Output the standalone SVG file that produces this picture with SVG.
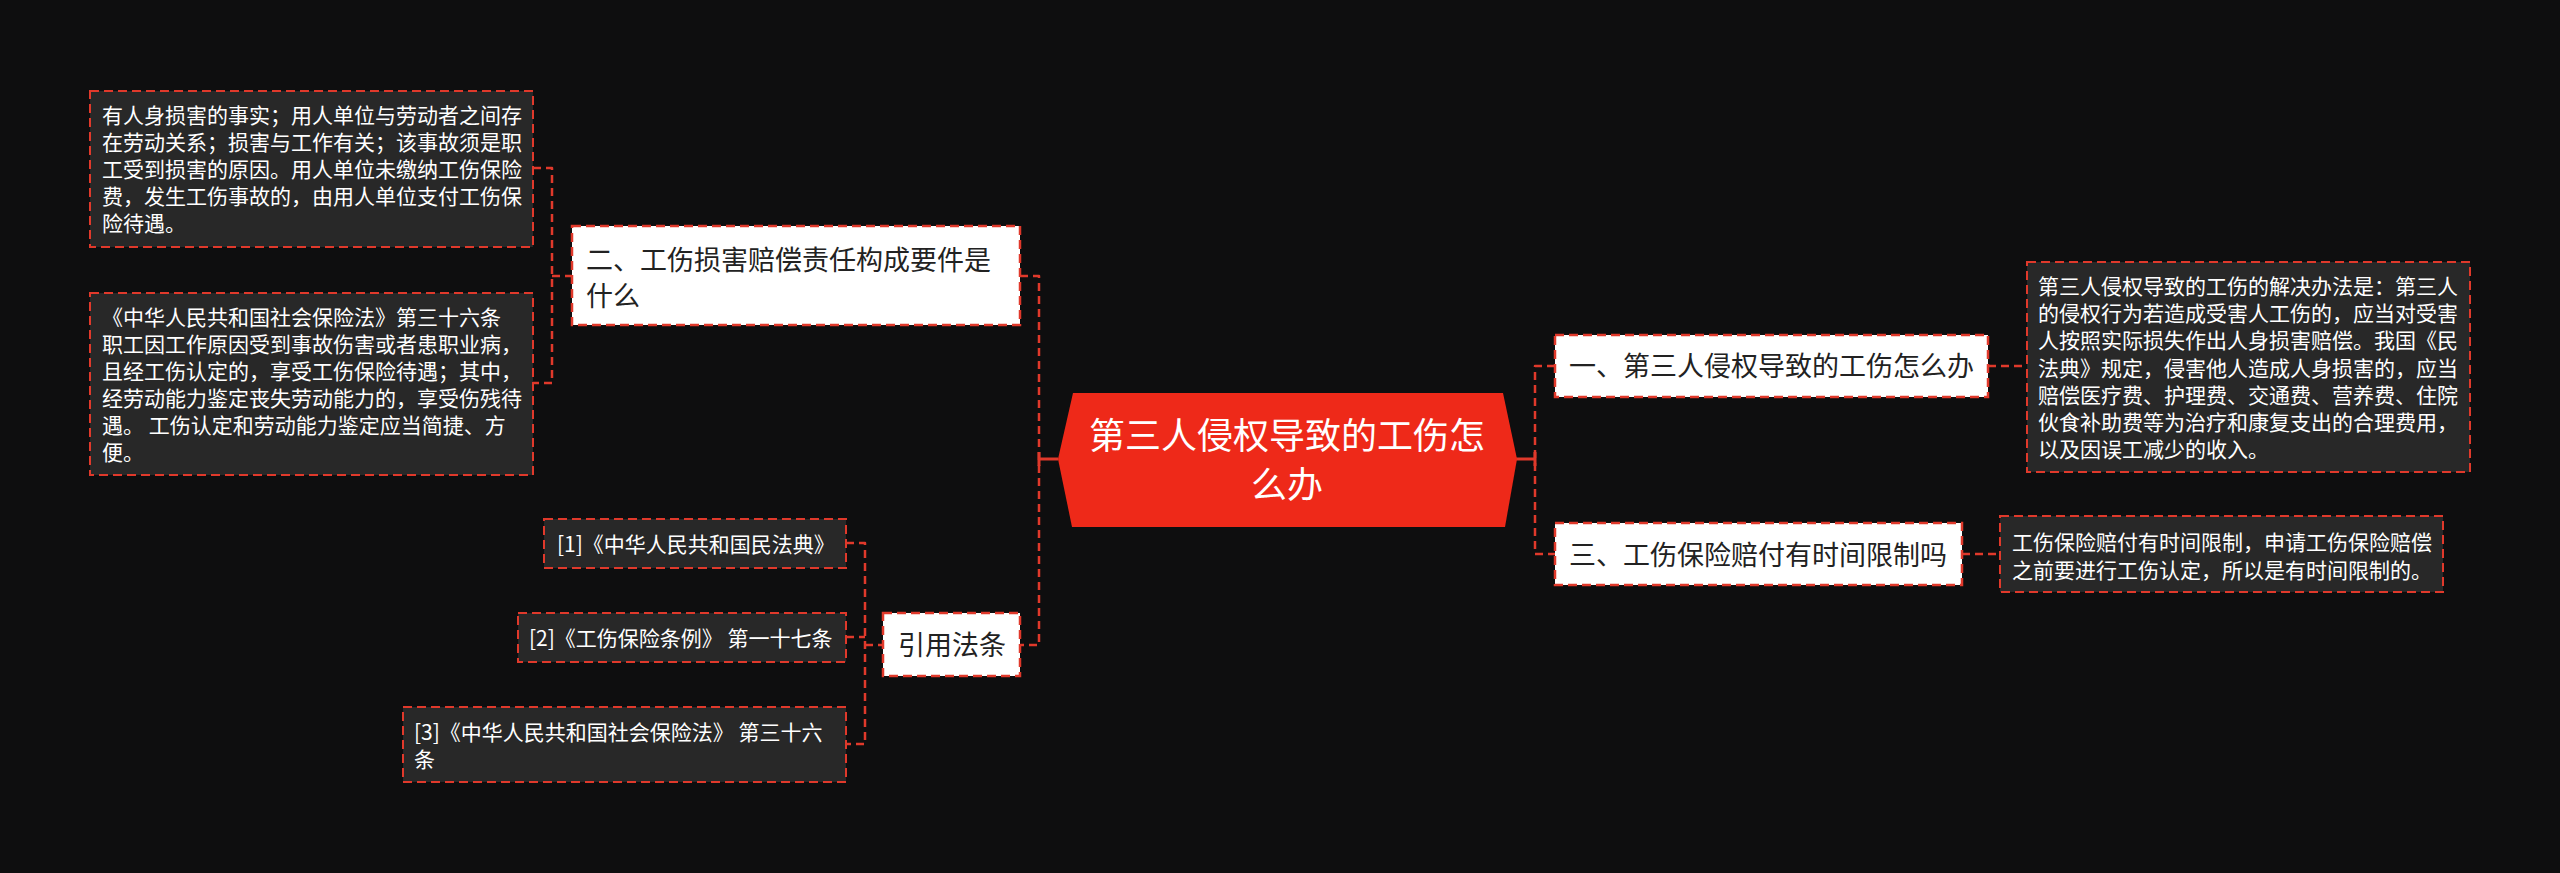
<svg xmlns="http://www.w3.org/2000/svg" width="2560" height="873" viewBox="0 0 2560 873">
<style>
.bg{fill:#0e0e0f}
.leaf{fill:#282828;stroke:#e0392b;stroke-width:2;stroke-dasharray:9 5}
.branch{fill:#ffffff;stroke:#e0392b;stroke-width:2.5;stroke-dasharray:9 5}
.conn{fill:none;stroke:#e0392b;stroke-width:2.5;stroke-dasharray:8 5;stroke-linejoin:round}
.solid{fill:none;stroke:#e0392b;stroke-width:3}
.lt{font-family:"Noto Sans CJK SC","Noto Sans",sans-serif;font-size:21px;fill:#ffffff}
.bt{font-family:"Noto Sans CJK SC","Noto Sans",sans-serif;font-size:27px;fill:#222222}
.ct{font-family:"Noto Sans CJK SC","Noto Sans",sans-serif;font-size:36px;fill:#ffffff;text-anchor:middle}
</style>
<rect class="bg" x="0" y="0" width="2560" height="873"/>

<g id="connectors">
  <path class="conn" d="M1020,276 H1039 V645 H1020"/>
  <path class="solid" d="M1039,459 H1058 M1039,452 V466"/>
  <path class="conn" d="M1555,366 H1535 V554 H1555"/>
  <path class="solid" d="M1516,459 H1535 M1535,452 V466"/>
  <path class="conn" d="M533,168 H552 V383 H533"/>
  <path class="conn" d="M552,276 H572"/>
  <path class="conn" d="M846,543 H865 V744 H846"/>
  <path class="conn" d="M846,637 H865"/>
  <path class="conn" d="M865,645 H883"/>
  <path class="conn" d="M1988,366 H2027"/>
  <path class="conn" d="M1962,554 H2000"/>
</g>

<g id="center">
  <polygon points="1073,393 1503,393 1517,459 1505,527 1072,527 1058,459" fill="#ee2919"/>
  <text class="ct" x="1287" y="449">第三人侵权导致的工伤怎</text>
  <text class="ct" x="1287" y="498">么办</text>
</g>

<g id="branch2">
  <rect class="branch" x="572" y="226" width="448" height="99"/>
  <text class="bt" x="586" y="270">二、工伤损害赔偿责任构成要件是</text>
  <text class="bt" x="586" y="306">什么</text>
</g>

<g id="leaf2a">
  <rect class="leaf" x="90" y="91" width="443" height="156"/>
  <text class="lt" x="102" y="123">有人身损害的事实；用人单位与劳动者之间存</text>
  <text class="lt" x="102" y="150">在劳动关系；损害与工作有关；该事故须是职</text>
  <text class="lt" x="102" y="177">工受到损害的原因。用人单位未缴纳工伤保险</text>
  <text class="lt" x="102" y="204">费，发生工伤事故的，由用人单位支付工伤保</text>
  <text class="lt" x="102" y="231">险待遇。</text>
</g>

<g id="leaf2b">
  <rect class="leaf" x="90" y="293" width="443" height="182"/>
  <text class="lt" x="102" y="325">《中华人民共和国社会保险法》第三十六条</text>
  <text class="lt" x="102" y="352">职工因工作原因受到事故伤害或者患职业病，</text>
  <text class="lt" x="102" y="379">且经工伤认定的，享受工伤保险待遇；其中，</text>
  <text class="lt" x="102" y="406">经劳动能力鉴定丧失劳动能力的，享受伤残待</text>
  <text class="lt" x="102" y="433">遇。 工伤认定和劳动能力鉴定应当简捷、方</text>
  <text class="lt" x="102" y="460">便。</text>
</g>

<g id="citations">
  <rect class="branch" x="883" y="613" width="137" height="63"/>
  <text class="bt" x="898" y="655">引用法条</text>
</g>

<g id="cite1">
  <rect class="leaf" x="544" y="519" width="302" height="49"/>
  <text class="lt" x="557" y="552">[1]《中华人民共和国民法典》</text>
</g>

<g id="cite2">
  <rect class="leaf" x="518" y="613" width="328" height="49"/>
  <text class="lt" x="529" y="646">[2]《工伤保险条例》 第一十七条</text>
</g>

<g id="cite3">
  <rect class="leaf" x="403" y="707" width="443" height="75"/>
  <text class="lt" x="414" y="740">[3]《中华人民共和国社会保险法》 第三十六</text>
  <text class="lt" x="414" y="767">条</text>
</g>

<g id="branch1">
  <rect class="branch" x="1555" y="335" width="433" height="62"/>
  <text class="bt" x="1569" y="376">一、第三人侵权导致的工伤怎么办</text>
</g>

<g id="leaf1">
  <rect class="leaf" x="2027" y="262" width="443" height="210"/>
  <text class="lt" x="2038" y="294">第三人侵权导致的工伤的解决办法是：第三人</text>
  <text class="lt" x="2038" y="321">的侵权行为若造成受害人工伤的，应当对受害</text>
  <text class="lt" x="2038" y="348">人按照实际损失作出人身损害赔偿。我国《民</text>
  <text class="lt" x="2038" y="376">法典》规定，侵害他人造成人身损害的，应当</text>
  <text class="lt" x="2038" y="403">赔偿医疗费、护理费、交通费、营养费、住院</text>
  <text class="lt" x="2038" y="430">伙食补助费等为治疗和康复支出的合理费用，</text>
  <text class="lt" x="2038" y="457">以及因误工减少的收入。</text>
</g>

<g id="branch3">
  <rect class="branch" x="1555" y="523" width="407" height="62"/>
  <text class="bt" x="1569" y="565">三、工伤保险赔付有时间限制吗</text>
</g>

<g id="leaf3">
  <rect class="leaf" x="2000" y="516" width="443" height="76"/>
  <text class="lt" x="2012" y="550">工伤保险赔付有时间限制，申请工伤保险赔偿</text>
  <text class="lt" x="2012" y="578">之前要进行工伤认定，所以是有时间限制的。</text>
</g>
</svg>
